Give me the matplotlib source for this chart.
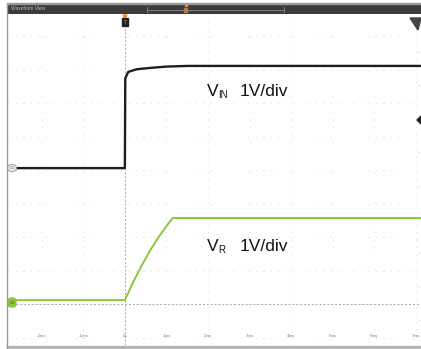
import numpy as np
import matplotlib
matplotlib.use("Agg")
import matplotlib.pyplot as plt
from matplotlib.patches import Rectangle, Circle, FancyBboxPatch, Polygon

plt.rcParams['font.family'] = ['Liberation Sans', 'DejaVu Sans']

# time in ms, amplitude in screen divisions
vin_t = [-2.81, 0.0, 0.01, 0.08, 0.28, 0.6, 1.0, 1.5, 2.2, 7.12]
vin_v = [5.07, 5.07, 7.75, 7.94, 8.02, 8.06, 8.10, 8.12, 8.12, 8.12]

vr_t = [-2.81, 0.0, 0.2, 0.4, 0.6, 0.8, 1.0, 1.15, 7.12]
vr_v = [1.13, 1.13, 1.67, 2.15, 2.60, 2.99, 3.34, 3.58, 3.58]

time_ticks = [-2, -1, 0, 1, 2, 3, 4, 5, 6, 7]
time_labels = ['-2ms', '-1ms', '0s', '1ms', '2ms', '3ms', '4ms', '5ms', '6ms', '7ms']
grid_rows = [0, 1, 2, 3, 4, 5, 6, 7, 8, 9]

W, H = 421, 349
fig = plt.figure(figsize=(W / 100, H / 100), dpi=100)
fig.patch.set_facecolor('white')


def fx(px):
    return px / W


def fy(py):
    return 1 - py / H


# main waveform area
ax = fig.add_axes([fx(8), fy(345), fx(413), (345 - 15) / H])
ax.set_xlim(-2.81, 7.12)
ax.set_ylim(-0.21, 9.64)
for s in ax.spines.values():
    s.set_visible(False)
ax.set_xticks([])
ax.set_yticks([])

for t in time_ticks:
    ax.axvline(t, color='#cfcfcf', lw=0.6, ls=(0, (1, 8)), zorder=0)
for r in grid_rows:
    ax.axhline(r, color='#cfcfcf', lw=0.6, ls=(0, (1, 8)), zorder=0)

# trigger position and channel reference
ax.axvline(0, color='#a8a8a8', lw=0.7, ls=(0, (2, 2)), zorder=1)
ax.axhline(1.0, color='#a8a8a8', lw=0.7, ls=(0, (2, 2)), zorder=1)

ax.plot(vr_t, vr_v, color='#8cc63f', lw=1.4, solid_joinstyle='round', zorder=3)
ax.plot(vin_t, vin_v, color='#1e1e1e', lw=1.7, solid_joinstyle='round', zorder=4)

for t, lab in zip(time_ticks, time_labels):
    ax.text(t, 0.06, lab, fontsize=3.2, color='#7a7a7a', ha='center', va='center')

# channel labels
ax.text(1.97, 7.22, 'V', fontsize=12.5, color='#111111', ha='left', va='baseline')
ax.text(2.24, 7.16, 'IN', fontsize=7, color='#111111', ha='left', va='baseline')
ax.text(2.76, 7.22, '1V/div', fontsize=12.5, color='#111111', ha='left', va='baseline')
ax.text(1.97, 2.60, 'V', fontsize=12.5, color='#111111', ha='left', va='baseline')
ax.text(2.24, 2.54, 'R', fontsize=7, color='#111111', ha='left', va='baseline')
ax.text(2.76, 2.60, '1V/div', fontsize=12.5, color='#111111', ha='left', va='baseline')

# right edge scale marks
for r in grid_rows:
    ax.text(7.05, r + 0.5, '·', fontsize=5, color='#8cc63f', ha='center', va='center')

# title bar
bar = fig.add_axes([fx(7), fy(14), fx(414), 10 / H])
bar.set_facecolor('#3b3b3b')
bar.set_xlim(7, 421)
bar.set_ylim(14, 4)
for s in bar.spines.values():
    s.set_visible(False)
bar.set_xticks([])
bar.set_yticks([])
bar.text(11, 9, 'Waveform View', fontsize=3.5, color='#bdbdbd', ha='left', va='center')
bar.plot([147, 284], [9.5, 9.5], color='#8a8a8a', lw=0.6)
bar.plot([147, 147], [6.5, 11.5], color='#8a8a8a', lw=0.6)
bar.plot([284, 284], [6.5, 11.5], color='#8a8a8a', lw=0.6)
bar.add_patch(Rectangle((184, 7.5), 3, 4, color='#c87a1e'))
bar.add_patch(Rectangle((184.5, 4), 2, 2, color='#f08a24'))

# frame lines
fig.add_artist(plt.Line2D([fx(7), fx(7)], [fy(4), fy(349)], color='#9a9a9a', lw=1.0))
fig.add_artist(Rectangle((fx(7), 0), fx(414), 3 / H, color='#b5b5b5', transform=fig.transFigure))
fig.add_artist(Rectangle((fx(7), fy(4)), fx(414), 1 / H, color='#9a9a9a', transform=fig.transFigure))

# trigger marker
fig.add_artist(Polygon([[fx(123), fy(15)], [fx(127), fy(15)], [fx(125), fy(18)]],
                       closed=True, color='#f08a24', transform=fig.transFigure))
fig.add_artist(Rectangle((fx(122), fy(26)), fx(6), 8 / H, color='#222222', transform=fig.transFigure))
fig.text(fx(125), fy(22), 'T', fontsize=3.5, color='#f0a040', ha='center', va='center')

# top right marker
fig.add_artist(Polygon([[fx(410), fy(18)], [fx(421), fy(18)], [fx(418), fy(30)]],
                       closed=True, color='#444444', transform=fig.transFigure))
fig.add_artist(Polygon([[fx(417), fy(120)], [fx(421), fy(116)], [fx(421), fy(124)]],
                       closed=True, color='#222222', transform=fig.transFigure))

# channel ground markers
fig.add_artist(Circle((fx(12), fy(168)), 4.5 / W, transform=fig.transFigure,
                      facecolor='#e6e6e6', edgecolor='#9a9a9a', lw=0.6))
fig.text(fx(12), fy(168), 'C1', fontsize=2.8, color='#777777', ha='center', va='center')
fig.add_artist(FancyBboxPatch((fx(8), fy(307)), 8 / W, 9 / H,
                              boxstyle='round,pad=0,rounding_size=0.008',
                              transform=fig.transFigure, color='#8cc63f'))
fig.text(fx(12), fy(302.5), 'C4', fontsize=2.8, color='#3d5a14', ha='center', va='center')

fig.savefig('out.png', dpi=100)
